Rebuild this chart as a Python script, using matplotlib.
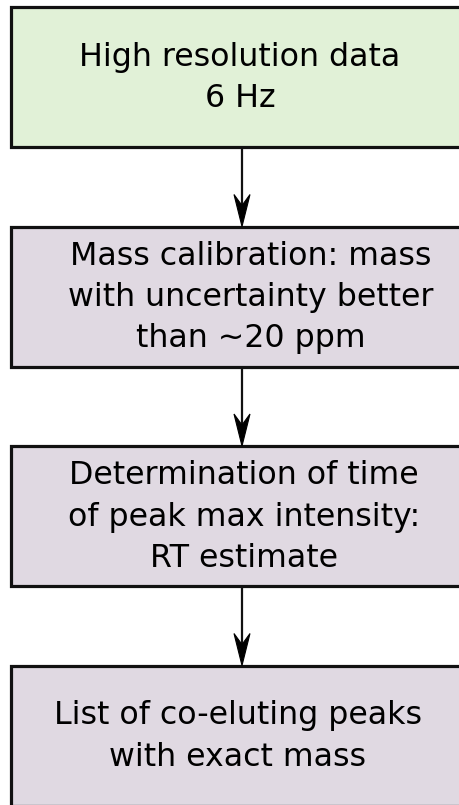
import matplotlib
matplotlib.use("Agg")
import matplotlib.pyplot as plt
from matplotlib.patches import Rectangle, Polygon

# flowchart steps (top to bottom)
steps = [
    "High resolution data\n6 Hz",
    "Mass calibration: mass\nwith uncertainty better\nthan ~20 ppm",
    "Determination of time\nof peak max intensity:\nRT estimate",
    "List of co-eluting peaks\nwith exact mass",
]
fills = ["#e1f1d7", "#e0d9e2", "#e0d9e2", "#e0d9e2"]
text_x = [240, 251, 244, 238]

W, H = 460, 805
fig = plt.figure(figsize=(W / 100, H / 100), dpi=100)
ax = fig.add_axes([0, 0, 1, 1])
ax.set_xlim(0, W)
ax.set_ylim(H, 0)
ax.axis("off")

box_left, box_w, box_h = 11, 480, 140
top0, gap = 7, 219.5
arrow_x = 242

for i, (label, fc) in enumerate(zip(steps, fills)):
    top = top0 + i * gap
    ax.add_patch(Rectangle((box_left, top), box_w, box_h, facecolor=fc,
                           edgecolor="#111111", linewidth=2.3, zorder=2))
    ax.text(text_x[i], top + box_h / 2 + 1, label, ha="center", va="center",
            fontsize=22.8, family="DejaVu Sans", color="#000000",
            linespacing=1.42, zorder=3)
    if i < len(steps) - 1:
        y0 = top + box_h
        y1 = top0 + (i + 1) * gap
        ax.plot([arrow_x, arrow_x], [y0, y1 - 20], color="#111111", lw=1.6, zorder=1)
        head = Polygon([(arrow_x, y1), (arrow_x - 8, y1 - 32), (arrow_x, y1 - 21),
                        (arrow_x + 8, y1 - 32)], closed=True,
                       facecolor="#000000", edgecolor="#000000", lw=0.8, zorder=3)
        ax.add_patch(head)

fig.savefig("out.png", dpi=100)
